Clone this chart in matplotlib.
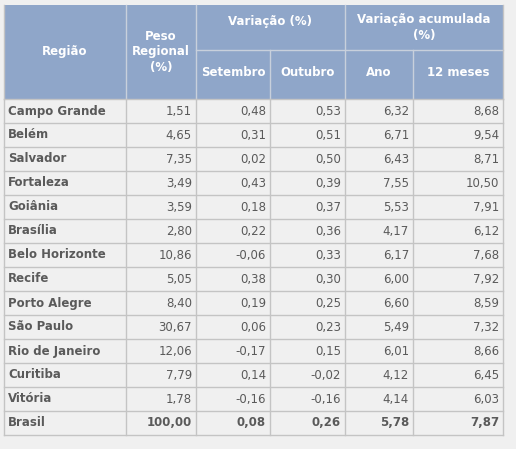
import matplotlib
matplotlib.use("Agg")
import matplotlib.pyplot as plt
from matplotlib.patches import Rectangle

regioes = ["Campo Grande","Belém","Salvador","Fortaleza","Goiânia","Brasília","Belo Horizonte",
           "Recife","Porto Alegre","São Paulo","Rio de Janeiro","Curitiba","Vitória","Brasil"]
peso = ["1,51","4,65","7,35","3,49","3,59","2,80","10,86","5,05","8,40","30,67","12,06","7,79","1,78","100,00"]
setembro = ["0,48","0,31","0,02","0,43","0,18","0,22","-0,06","0,38","0,19","0,06","-0,17","0,14","-0,16","0,08"]
outubro = ["0,53","0,51","0,50","0,39","0,37","0,36","0,33","0,30","0,25","0,23","0,15","-0,02","-0,16","0,26"]
ano = ["6,32","6,71","6,43","7,55","5,53","4,17","6,17","6,00","6,60","5,49","6,01","4,12","4,14","5,78"]
meses12 = ["8,68","9,54","8,71","10,50","7,91","6,12","7,68","7,92","8,59","7,32","8,66","6,45","6,03","7,87"]

W, H = 516, 449
fig = plt.figure(figsize=(W/100, H/100), dpi=100, facecolor="#f0f0f0")
ax = fig.add_axes([0, 0, 1, 1])
ax.set_xlim(0, W); ax.set_ylim(H, 0); ax.axis("off")

cols = [4, 126, 196, 270, 345, 413, 503]
top, mid, hb = 5, 50, 99
rh = 24
hdr = "#8fa6c9"; border = "#c4c4c4"; txt = "#5a5a5a"
fam = "DejaVu Sans"

ax.add_patch(Rectangle((cols[0], top), cols[-1]-cols[0], hb-top, fc=hdr, ec="none"))
lw = 1.0
# header lines
for x in cols[1:-1]:
    y0 = mid if x in (196+74, 413) else top
    ax.plot([x, x], [y0, hb], color="#c8d0dc", lw=lw)
ax.plot([cols[2], cols[-1]], [mid, mid], color="#c8d0dc", lw=lw)
hk = dict(color="white", fontsize=8.5, fontweight="bold", family=fam, ha="center", va="center")
ax.text((cols[0]+cols[1])/2, (top+hb)/2, "Região", **hk)
ax.text((cols[1]+cols[2])/2, (top+hb)/2, "Peso\nRegional\n(%)", linespacing=1.3, **hk)
ax.text((cols[2]+cols[4])/2, 22, "Variação (%)", **hk)
ax.text((cols[4]+cols[6])/2, 28, "Variação acumulada\n(%)", linespacing=1.3, **hk)
for i, t in enumerate(["Setembro", "Outubro", "Ano", "12 meses"]):
    ax.text((cols[2+i]+cols[3+i])/2, 73, t, **hk)

n = len(regioes)
bottom = hb + n*rh
for i in range(n+1):
    y = hb + i*rh
    ax.plot([cols[0], cols[-1]], [y, y], color=border, lw=lw)
for x in cols:
    ax.plot([x, x], [hb, bottom], color=border, lw=lw)
ax.plot([cols[0], cols[0]], [top, hb], color=border, lw=lw)
ax.plot([cols[-1], cols[-1]], [top, hb], color=border, lw=lw)

for i in range(n):
    yc = hb + i*rh + rh/2
    bold = "bold"
    ax.text(cols[0]+4, yc, regioes[i], color=txt, fontsize=8.5, fontweight="bold", family=fam, va="center", ha="left")
    for j, arr in enumerate([peso, setembro, outubro, ano, meses12]):
        ax.text(cols[j+2]-4, yc, arr[i], color=txt, fontsize=8.5,
                fontweight="bold" if i == n-1 else "normal", family=fam, va="center", ha="right")

fig.savefig("out.png", dpi=100, facecolor=fig.get_facecolor())
